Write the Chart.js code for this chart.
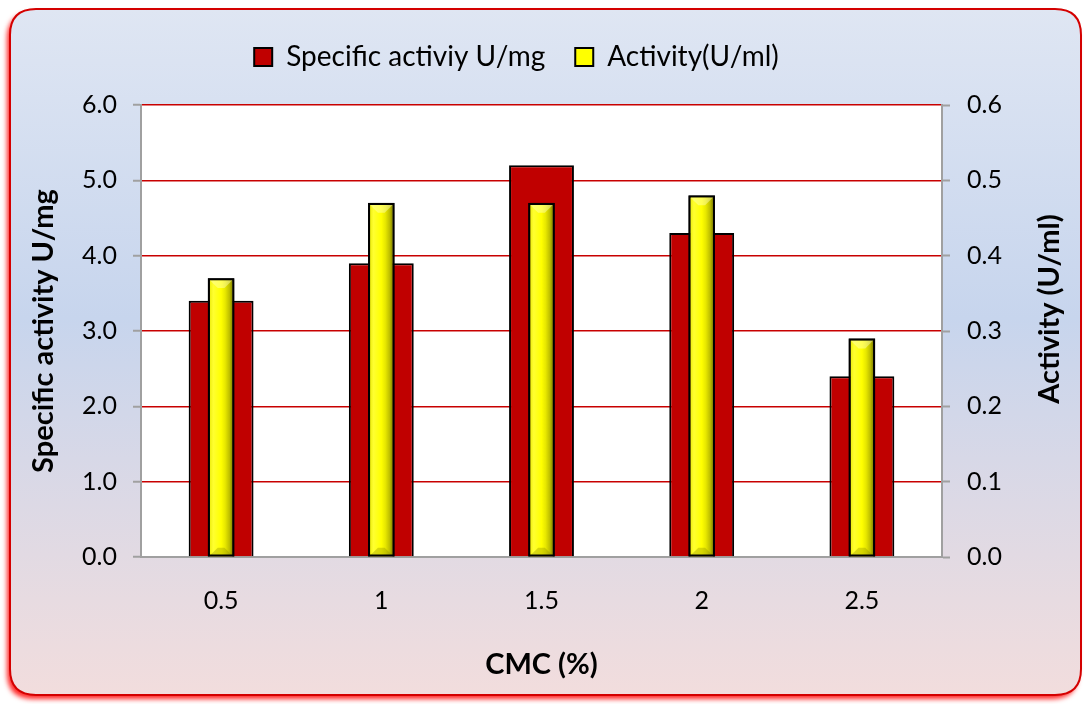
<!DOCTYPE html>
<html>
<head>
<meta charset="utf-8">
<script src="https://cdn.jsdelivr.net/npm/chart.js@4.4.1/dist/chart.umd.min.js"></script>
<style>
  html, body { margin: 0; padding: 0; background: #ffffff; }
  #wrap { width: 1085px; height: 704px; position: relative; }
</style>
</head>
<body>
<div id="wrap"><canvas id="c" width="1085" height="704"></canvas></div>
<script>
// CMC concentrations and the two measured series
const categories = ['0.5', '1', '1.5', '2', '2.5'];
const specificActivity = [3.4, 3.9, 5.2, 4.3, 2.4];   // U/mg, left axis
const activity = [0.37, 0.47, 0.47, 0.48, 0.29];      // U/ml, right axis
const seriesNames = ['Specific activiy U/mg', 'Activity(U/ml)'];
const leftTicks = [0, 1, 2, 3, 4, 5, 6];
const rightTicks = [0, 0.1, 0.2, 0.3, 0.4, 0.5, 0.6];
const leftAxisTitle = 'Specific activity U/mg';
const rightAxisTitle = 'Activity (U/ml)';
const xAxisTitle = 'CMC (%)';

const FONT = 'Lato, "Open Sans", sans-serif';
const AXIS_GREY = '#a0a0a0';
const GRID_RED = '#c80000';
const TITLE_SIZE = 29;
const TICK_SIZE = 25;

// Rounded panel with a soft gradient and a red outline
const framePlugin = {
  id: 'frame',
  beforeDraw(chart) {
    const { ctx, width, height } = chart;
    const x = 10, y = 9, w = width - 14, h = height - 18, r = 26;
    const path = () => {
      ctx.beginPath();
      ctx.moveTo(x + r, y);
      ctx.lineTo(x + w - r, y);
      ctx.quadraticCurveTo(x + w, y, x + w, y + r);
      ctx.lineTo(x + w, y + h - r);
      ctx.quadraticCurveTo(x + w, y + h, x + w - r, y + h);
      ctx.lineTo(x + r, y + h);
      ctx.quadraticCurveTo(x, y + h, x, y + h - r);
      ctx.lineTo(x, y + r);
      ctx.quadraticCurveTo(x, y, x + r, y);
      ctx.closePath();
    };
    ctx.save();
    const g = ctx.createLinearGradient(0, y, 0, y + h);
    g.addColorStop(0, '#dfe6f3');
    g.addColorStop(0.45, '#c7d5ed');
    g.addColorStop(1, '#f2dddd');
    ctx.shadowColor = 'rgba(255, 0, 0, 0.85)';
    ctx.shadowBlur = 5;
    ctx.shadowOffsetX = -3;
    ctx.shadowOffsetY = 4;
    path();
    ctx.fillStyle = g;
    ctx.fill();
    ctx.shadowColor = 'transparent';
    path();
    ctx.lineWidth = 2;
    ctx.strokeStyle = '#d40000';
    ctx.stroke();
    // plot area background
    const a = chart.chartArea;
    ctx.fillStyle = '#ffffff';
    ctx.fillRect(a.left, a.top, a.right - a.left, a.bottom - a.top);
    ctx.restore();
  }
};

// Extra room under the legend, and legend centred slightly left of the canvas middle
const legendSpacePlugin = {
  id: 'legendSpace',
  beforeLayout(chart) {
    const lg = chart.legend;
    if (lg && !lg._spaced) {
      const fit = lg.fit.bind(lg);
      lg.fit = function () { fit(); this.height = 92; };
      lg._spaced = true;
    }
  },
  afterLayout(chart) {
    const lg = chart.legend;
    if (lg) { lg.left -= 26; lg.right -= 26; }
  }
};

// Beveled shading for the yellow bars
const bevelPlugin = {
  id: 'bevel',
  afterDatasetDraw(chart, args) {
    if (args.index !== 1) return;
    const ctx = chart.ctx;
    args.meta.data.forEach(bar => {
      const p = bar.getProps(['x', 'y', 'base', 'width'], true);
      const l = p.x - p.width / 2 + 2, r = p.x + p.width / 2 - 2;
      const t = Math.min(p.y, p.base) + 2, b = Math.max(p.y, p.base) - 1;
      const w = r - l;
      ctx.save();
      const g = ctx.createLinearGradient(l, 0, r, 0);
      g.addColorStop(0, '#efef10');
      g.addColorStop(0.15, '#ffff30');
      g.addColorStop(0.5, '#ffff00');
      g.addColorStop(0.68, '#e8e800');
      g.addColorStop(0.88, '#bcbc00');
      g.addColorStop(1, '#8a8a00');
      ctx.fillStyle = g;
      ctx.fillRect(l, t, w, b - t);
      const bv = Math.min(w * 0.35, 8);
      ctx.fillStyle = 'rgba(255,255,190,0.45)';
      ctx.beginPath();
      ctx.moveTo(l, t); ctx.lineTo(r, t); ctx.lineTo(r - bv, t + bv); ctx.lineTo(l + bv, t + bv);
      ctx.closePath(); ctx.fill();
      ctx.fillStyle = 'rgba(140,140,0,0.35)';
      ctx.beginPath();
      ctx.moveTo(l, b); ctx.lineTo(r, b); ctx.lineTo(r - bv, b - bv); ctx.lineTo(l + bv, b - bv);
      ctx.closePath(); ctx.fill();
      ctx.lineWidth = 2;
      ctx.strokeStyle = '#000000';
      ctx.strokeRect(l - 1, t - 1, w + 2, b - t + 1);
      ctx.restore();
    });
  }
};

// Right-hand axis title, reading bottom to top
const rightTitlePlugin = {
  id: 'rightTitle',
  afterDraw(chart) {
    const ctx = chart.ctx;
    const s = chart.scales.y1;
    const a = chart.chartArea;
    ctx.save();
    ctx.translate(s.right - 35, (a.top + a.bottom) / 2 - 22);
    ctx.rotate(-Math.PI / 2);
    ctx.font = 'bold ' + TITLE_SIZE + 'px ' + FONT;
    ctx.fillStyle = '#000000';
    ctx.textAlign = 'center';
    ctx.textBaseline = 'middle';
    ctx.fillText(rightAxisTitle, 0, 0);
    ctx.restore();
  }
};

new Chart(document.getElementById('c'), {
  type: 'bar',
  data: {
    labels: categories,
    datasets: [
      {
        label: seriesNames[0],
        data: specificActivity,
        yAxisID: 'y',
        backgroundColor: '#c00000',
        borderColor: '#000000',
        borderWidth: 2,
        grouped: false,
        categoryPercentage: 1,
        barPercentage: 0.405,
        order: 2
      },
      {
        label: seriesNames[1],
        data: activity,
        yAxisID: 'y1',
        backgroundColor: '#ffff00',
        borderColor: '#000000',
        borderWidth: 2,
        grouped: false,
        categoryPercentage: 1,
        barPercentage: 0.165,
        order: 1
      }
    ]
  },
  options: {
    responsive: false,
    animation: false,
    devicePixelRatio: 1,
    layout: { padding: { top: 13, left: 0, right: 0, bottom: 0 } },
    plugins: {
      tooltip: { enabled: false },
      legend: {
        position: 'top',
        labels: {
          sort: (a, b) => a.datasetIndex - b.datasetIndex,
          boxWidth: 18,
          boxHeight: 18,
          padding: 30,
          color: '#000000',
          font: { family: FONT, size: 28 }
        }
      }
    },
    scales: {
      x: {
        type: 'category',
        offset: true,
        grid: { display: false, drawTicks: false },
        border: { display: true, color: AXIS_GREY, width: 2 },
        ticks: { color: '#000000', padding: 29, font: { family: FONT, size: TICK_SIZE } },
        title: {
          display: true, text: xAxisTitle, color: '#000000',
          font: { family: FONT, size: TITLE_SIZE, weight: 'bold' },
          padding: { top: 0, bottom: 22 }
        },
        afterFit: s => { s.height = 147; }
      },
      y: {
        position: 'left',
        min: leftTicks[0],
        max: leftTicks[leftTicks.length - 1],
        afterBuildTicks: s => { s.ticks = leftTicks.map(v => ({ value: v })); },
        grid: { color: GRID_RED, lineWidth: 1.5, tickColor: AXIS_GREY, tickLength: 8, tickWidth: 2 },
        border: { display: true, color: AXIS_GREY, width: 2 },
        ticks: {
          color: '#000000', padding: 16, font: { family: FONT, size: TICK_SIZE },
          callback: v => Number(v).toFixed(1)
        },
        title: {
          display: true, text: leftAxisTitle, color: '#000000',
          font: { family: FONT, size: TITLE_SIZE, weight: 'bold' },
          padding: { top: 26, bottom: 0 }
        },
        afterFit: s => { s.width = 141; }
      },
      y1: {
        position: 'right',
        min: rightTicks[0],
        max: rightTicks[rightTicks.length - 1],
        afterBuildTicks: s => { s.ticks = rightTicks.map(v => ({ value: v })); },
        grid: { drawOnChartArea: false, tickColor: AXIS_GREY, tickLength: 8, tickWidth: 2 },
        border: { display: true, color: AXIS_GREY, width: 2 },
        ticks: {
          color: '#000000', padding: 17, font: { family: FONT, size: TICK_SIZE },
          callback: v => Number(v).toFixed(1)
        },
        afterFit: s => { s.width = 143; }
      }
    }
  },
  plugins: [framePlugin, legendSpacePlugin, bevelPlugin, rightTitlePlugin]
});
</script>
</body>
</html>
